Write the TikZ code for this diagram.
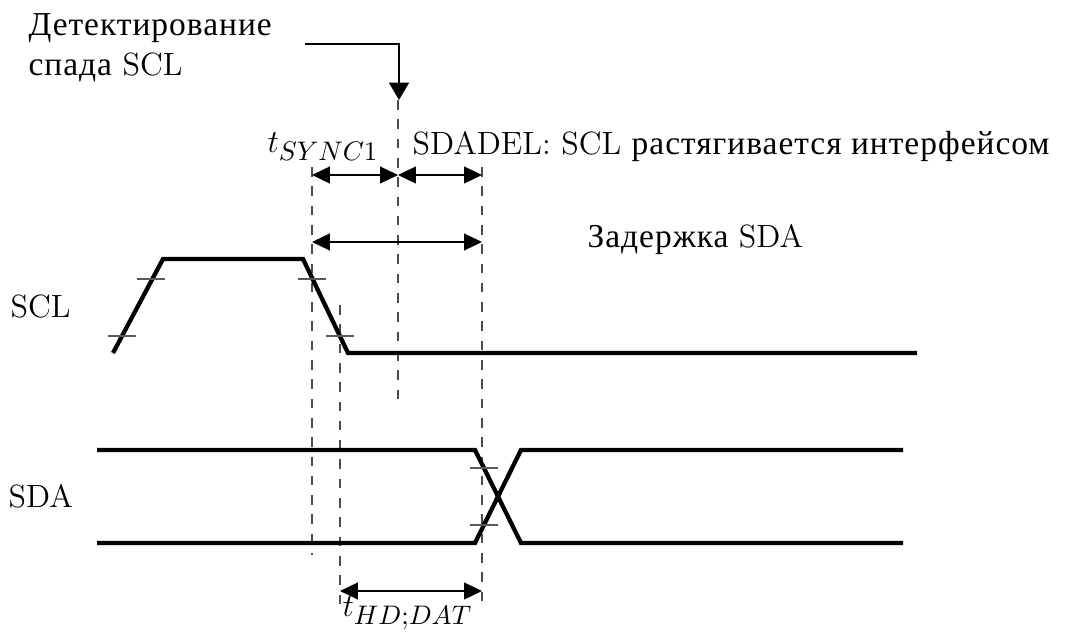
\documentclass[tikz,border=0pt]{standalone}
\usepackage{fontspec}
\newfontfamily\cyr[Scale=1.04, LetterSpace=3]{Liberation Serif}
\DeclareMathSizes{12}{12}{10}{8}
\usetikzlibrary{arrows.meta}

\tikzset{
  senal/.style={line width=1.6pt, line join=miter},
  marca/.style={draw=black!65, line width=0.45pt},
  guia/.style={draw=black!70, line width=0.5pt, dash pattern=on 3.6pt off 3.6pt},
  cota/.style={{Triangle[length=6.7pt,width=6.3pt]}-{Triangle[length=6.7pt,width=6.3pt]}, line width=0.55pt},
  texto/.style={inner sep=0pt, anchor=base west}
}

\begin{document}
\begin{tikzpicture}[x=0.373pt, y=-0.373pt, font=\fontsize{12}{14.8}\selectfont]
  \useasboundingbox (0,0) rectangle (1075,637);

  % Textos
  \node[inner sep=0pt, anchor=north west, align=left] (det) at (28,13)
    {{\cyr Детектирование}\\{\cyr спада} SCL};
  \node[texto] (tsync) at (267,153) {$t_{SYNC1}$};
  \node[texto] (sdadel) at (412,155) {SDADEL: SCL {\cyr растягивается интерфейсом}};
  \node[texto] (zad) at (587,248) {{\cyr Задержка} SDA};
  \node[texto] (scl) at (10,318) {SCL};
  \node[texto] (sda) at (8,508) {SDA};
  \node[texto] (thd) at (342,617) {$t_{HD;DAT}$};

  % Flecha de deteccion
  \draw[line width=0.55pt, -{Triangle[length=6.5pt,width=7.5pt]}] (305,44) -- (399,44) -- (399,100);

  % Guias
  \draw[guia] (312,167) -- (312,555);
  \draw[guia] (340,305) -- (340,608);
  \draw[guia] (398,100) -- (398,402);
  \draw[guia] (482,167) -- (482,608);

  % SCL
  \draw[senal] (113,353) -- (163,259) -- (303,259) -- (348,353) -- (917,353);

  % SDA
  \draw[senal] (97,450) -- (475,450) -- (521,543) -- (903,543);
  \draw[senal] (97,543) -- (475,543) -- (521,450) -- (903,450);

  % Marcas
  \foreach \x/\y in {122/336, 151/279, 312/279, 340/336, 484/468, 484/525}
    \draw[marca] (\x-14,\y) -- (\x+14,\y);

  % Cotas
  \draw[cota] (312,175) -- (398,175);
  \draw[cota] (398,175) -- (482,175);
  \draw[cota] (312,242) -- (482,242);
  \draw[cota] (340,591) -- (482,591);
\end{tikzpicture}
\end{document}
